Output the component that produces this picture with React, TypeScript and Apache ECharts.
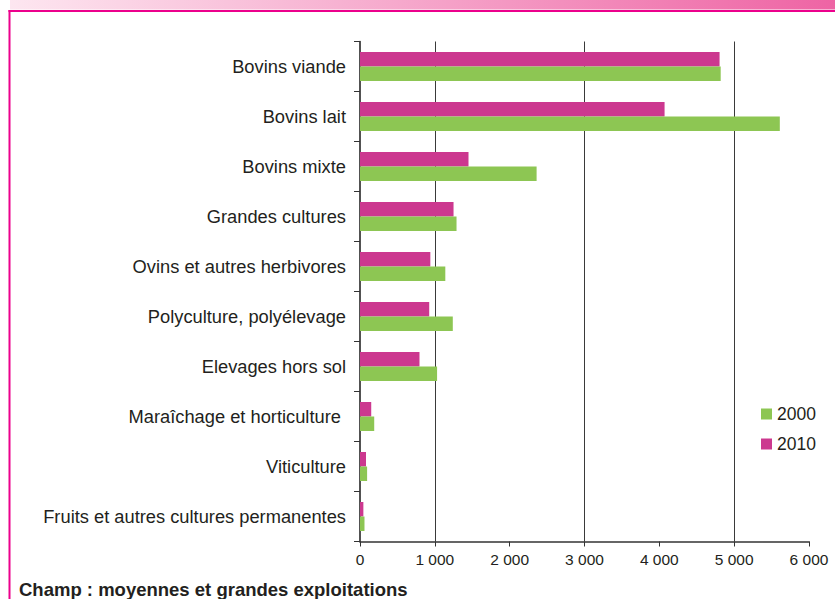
import React, { useEffect, useRef } from "react";
import * as echarts from "echarts";

const categories = [
  "Bovins viande",
  "Bovins lait",
  "Bovins mixte",
  "Grandes cultures",
  "Ovins et autres herbivores",
  "Polyculture, polyélevage",
  "Elevages hors sol",
  "Maraîchage et horticulture\u00a0",
  "Viticulture",
  "Fruits et autres cultures permanentes",
];
const values2000 = [4820, 5610, 2360, 1290, 1140, 1240, 1030, 190, 95, 60];
const values2010 = [4805, 4070, 1450, 1250, 940, 925, 795, 150, 80, 45];
const seriesNames = ["2000", "2010"];
const gridLineValues = [1000, 3000, 5000];
const xTickLabels = ["0", "1 000", "2 000", "3 000", "4 000", "5 000", "6 000"];
const footnote = "Champ : moyennes et grandes exploitations";

const FONT = "'Liberation Sans', Arial, Helvetica, sans-serif";
const PINK = "#cc388f";
const GREEN = "#8dc653";

export default function App() {
  const ref = useRef<HTMLDivElement>(null);
  useEffect(() => {
    if (!ref.current) return;
    const chart = echarts.init(ref.current, null, { renderer: "svg" });
    chart.setOption({
      animation: false,
      backgroundColor: "#ffffff",
      textStyle: { fontFamily: FONT },
      grid: { left: 360, right: 26, top: 41.5, bottom: 57.5, containLabel: false },
      legend: {
        orient: "vertical",
        left: 756,
        top: 400,
        padding: 5,
        data: seriesNames,
        icon: "rect",
        itemWidth: 11,
        itemHeight: 11,
        itemGap: 12,
        textStyle: { fontSize: 17.5, color: "#231f20", fontFamily: FONT, lineHeight: 18 },
      },
      xAxis: {
        type: "value",
        min: 0,
        max: 6000,
        interval: 1000,
        splitLine: { show: false },
        axisLine: { show: true, lineStyle: { color: "#333", width: 1.5 } },
        axisTick: { show: true, length: 5, lineStyle: { color: "#333" } },
        axisLabel: {
          margin: 10,
          fontSize: 15.5,
          color: "#231f20",
          fontFamily: FONT,
          formatter: (v: number) => xTickLabels[Math.round(v / 1000)] ?? String(v),
        },
      },
      yAxis: {
        type: "category",
        inverse: true,
        data: categories,
        axisLine: { show: true, lineStyle: { color: "#333", width: 1.7 } },
        axisTick: { show: true, length: 6, lineStyle: { color: "#333" } },
        axisLabel: { margin: 14, fontSize: 18.3, color: "#231f20", fontFamily: FONT },
      },
      series: [
        {
          name: "2010",
          type: "bar",
          data: values2010,
          itemStyle: { color: PINK },
          barWidth: 14.5,
          barGap: "0%",
        },
        {
          name: "2000",
          type: "bar",
          data: values2000,
          itemStyle: { color: GREEN },
          barWidth: 14.5,
          barGap: "0%",
          markLine: {
            silent: true,
            z: 1,
            symbol: ["none", "none"],
            label: { show: false },
            lineStyle: { color: "#3a3a3a", width: 1, type: "solid" },
            data: gridLineValues.map((v) => ({ xAxis: v })),
          },
        },
      ],
      graphic: [
        {
          type: "rect",
          shape: { x: 10, y: 0, width: 825, height: 9.5 },
          style: {
            fill: new echarts.graphic.LinearGradient(0, 0, 1, 0, [
              { offset: 0, color: "#fde6f0" },
              { offset: 1, color: "#ee64a4" },
            ]),
          },
          silent: true,
        },
        {
          type: "line",
          shape: { x1: 8.5, y1: 11, x2: 835, y2: 11 },
          style: { stroke: "#ec008c", lineWidth: 2 },
          silent: true,
        },
        {
          type: "line",
          shape: { x1: 9.5, y1: 10, x2: 9.5, y2: 599 },
          style: { stroke: "#ec008c", lineWidth: 2 },
          silent: true,
        },
        {
          type: "text",
          x: 19,
          y: 589,
          style: {
            text: footnote,
            font: `bold 18.5px ${FONT}`,
            fill: "#231f20",
            verticalAlign: "middle",
            align: "left",
          },
          silent: true,
        },
      ],
    });
    return () => chart.dispose();
  }, []);
  return (
    <div
      ref={ref}
      style={{ position: "absolute", left: 0, top: 0, width: 835, height: 599 }}
    />
  );
}
